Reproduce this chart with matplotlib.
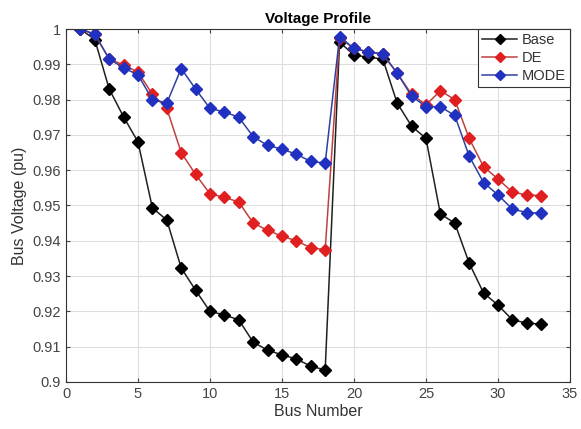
import numpy as np
import matplotlib.pyplot as plt
from matplotlib.ticker import FuncFormatter

plt.rcParams['font.family'] = ['Liberation Sans', 'DejaVu Sans']

bus = list(range(1, 34))

base = [1.0, 0.9970, 0.9830, 0.9751, 0.9680, 0.9493, 0.9459, 0.9323, 0.9260, 0.9200,
        0.9190, 0.9176, 0.9113, 0.9090, 0.9077, 0.9065, 0.9045, 0.9034, 0.9963, 0.9926,
        0.9920, 0.9915, 0.9790, 0.9725, 0.9690, 0.9476, 0.9450, 0.9337, 0.9252, 0.9218,
        0.9176, 0.9167, 0.9164]

de = [1.0, 0.9985, 0.9915, 0.9898, 0.9878, 0.9815, 0.9775, 0.9650, 0.9588, 0.9533,
      0.9523, 0.9510, 0.9450, 0.9430, 0.9413, 0.9400, 0.9380, 0.9375, 0.9975, 0.9945,
      0.9935, 0.9928, 0.9875, 0.9815, 0.9785, 0.9825, 0.9800, 0.9690, 0.9610, 0.9575,
      0.9538, 0.9530, 0.9528]

mode = [1.0, 0.9985, 0.9915, 0.9890, 0.9870, 0.9800, 0.9790, 0.9888, 0.9830, 0.9775,
        0.9765, 0.9750, 0.9695, 0.9670, 0.9660, 0.9645, 0.9625, 0.9620, 0.9978, 0.9945,
        0.9935, 0.9930, 0.9875, 0.9810, 0.9780, 0.9780, 0.9755, 0.9640, 0.9565, 0.9530,
        0.9490, 0.9480, 0.9478]

fig = plt.figure(figsize=(5.81, 4.29), dpi=100)
ax = fig.add_axes([0.1136, 0.1096, 0.8674, 0.8228])

ax.plot(bus, base, color='#202020', lw=1.1, marker='D', ms=6,
        mfc='black', mec='black', label='Base')
ax.plot(bus, de, color='#c04040', lw=1.1, marker='D', ms=6,
        mfc='#e02020', mec='#e02020', label='DE')
ax.plot(bus, mode, color='#3040a0', lw=1.1, marker='D', ms=6,
        mfc='#2030c0', mec='#2030c0', label='MODE')

ax.set_xlim(0, 35)
ax.set_ylim(0.9, 1.0)
ax.set_xticks(np.arange(0, 36, 5))
ax.set_yticks(np.arange(0.9, 1.0001, 0.01))
ax.yaxis.set_major_formatter(FuncFormatter(lambda v, p: ('%.2f' % v).rstrip('0').rstrip('.')))
ax.grid(True, color='#dddddd', lw=0.8)
ax.tick_params(direction='in', labelsize=10.5, colors='#444444', top=True, right=True, length=3)
for s in ax.spines.values():
    s.set_color('#333333')
    s.set_linewidth(0.8)

ax.set_title('Voltage Profile', fontsize=11, fontweight='bold', pad=4)
ax.set_xlabel('Bus Number', fontsize=11.5, color='#333333', labelpad=2)
ax.set_ylabel('Bus Voltage (pu)', fontsize=11.5, color='#333333', labelpad=4)

leg = ax.legend(loc='upper right', fontsize=10.5, fancybox=False, framealpha=1,
                edgecolor='#333333', borderpad=0.3, handlelength=2.4, labelspacing=0.25,
                handletextpad=0.3, markerscale=0.85, borderaxespad=0.0)
leg.get_frame().set_linewidth(0.8)
for t in leg.get_texts():
    t.set_color('#333333')

fig.savefig('out.png', dpi=100)
